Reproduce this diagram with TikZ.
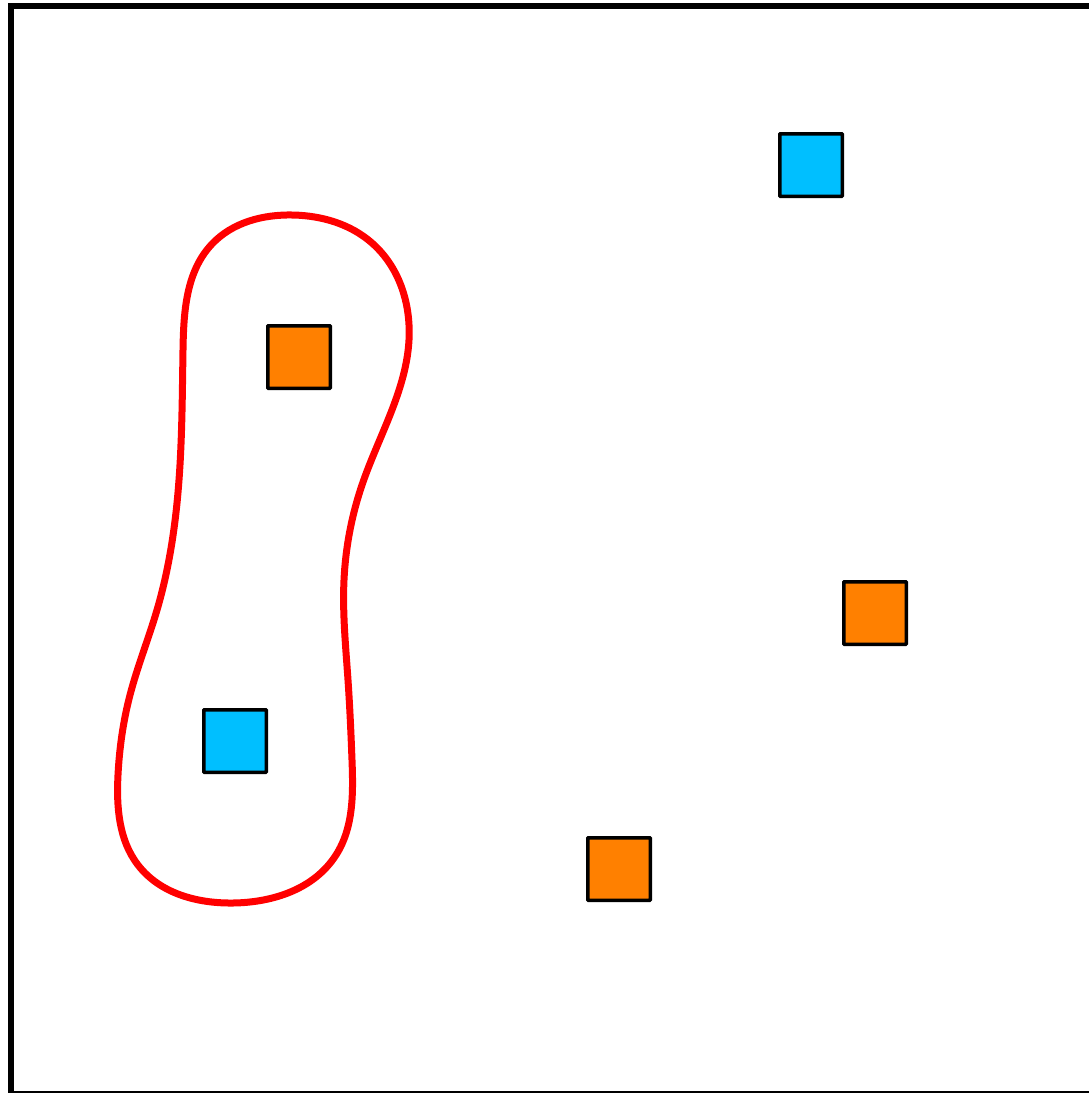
\documentclass[tikz,border=0pt]{standalone}
\usetikzlibrary{hobby}
\begin{document}
\begin{tikzpicture}[x=1pt,y=-1pt,
  sq/.style={draw=black,line width=3.5pt,minimum size=62.5pt,inner sep=0pt,rounded corners=0.5pt},
  bluesq/.style={sq,fill={rgb,255:red,0;green,191;blue,255}},
  orangesq/.style={sq,fill={rgb,255:red,255;green,128;blue,0}}]
\useasboundingbox (0,0) rectangle (1089,1093);
\clip (0,0) rectangle (1089,1093);
\draw[line width=6.5pt] (11,6) rectangle (1099,1094);
\draw[red,line width=7pt,use Hobby shortcut,closed=true]
 (293,215) .. (372,243) .. (409,340) .. (388,420) .. (362,485) .. (344,580)
 .. (348,680) .. (352,760) .. (336,855) .. (233,903) .. (138,865) .. (118,775)
 .. (130,695) .. (157,610) .. (179,480) .. (183,350) .. (212,244);
\node[bluesq] (b1) at (811,165) {};
\node[orangesq] (o1) at (299,357) {};
\node[bluesq] (b2) at (235,741) {};
\node[orangesq] (o2) at (875,613) {};
\node[orangesq] (o3) at (619,869) {};
\end{tikzpicture}
\end{document}
